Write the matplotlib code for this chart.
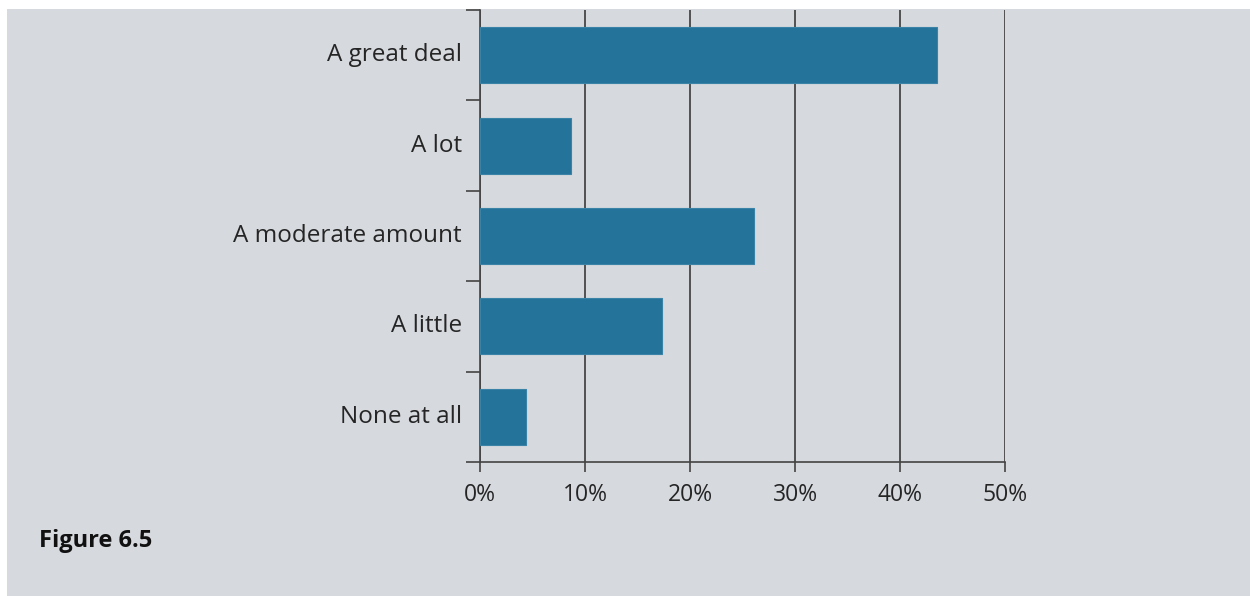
import numpy as np
import matplotlib.pyplot as plt
from matplotlib.patches import Rectangle
from matplotlib.ticker import FixedLocator
from matplotlib.transforms import ScaledTranslation

categories = ["A great deal", "A lot", "A moderate amount", "A little", "None at all"]
shares = [43.5, 8.7, 26.1, 17.3, 4.4]
xticks = [0, 10, 20, 30, 40, 50]
xlabels = ["0%", "10%", "20%", "30%", "40%", "50%"]

plt.rcParams['font.family'] = ['Open Sans', 'DejaVu Sans']

bg = "#d6d9de"
ink = "#252525"

fig = plt.figure(figsize=(12.5, 5.96), dpi=100, facecolor="white")
# grey panel with a thin white margin on the top and left
fig.patches.append(Rectangle((7 / 1250, 0), 1 - 7 / 1250, 1 - 9 / 596,
                             transform=fig.transFigure, facecolor=bg,
                             edgecolor="none", zorder=-10))

ax = fig.add_axes([480 / 1250, 1 - 462 / 596, 525 / 1250, 452 / 596])
ax.set_facecolor("none")

ypos = np.arange(len(categories))
ax.barh(ypos, shares, height=0.62, color="#24739a", edgecolor="#3a82a6",
        linewidth=0.8, zorder=3)

ax.set_xlim(0, 50)
ax.set_ylim(len(categories) - 0.5, -0.5)

ax.set_xticks(xticks)
ax.set_xticklabels(xlabels)
ax.set_yticks(ypos)
ax.set_yticklabels(categories)
ax.yaxis.set_minor_locator(FixedLocator(np.arange(-0.5, len(categories), 1)))

ax.tick_params(axis="y", which="major", length=0, pad=13, labelsize=17.5, labelcolor=ink)
ax.tick_params(axis="y", which="minor", length=10, width=1.2, color="#444444")
ax.tick_params(axis="x", which="major", length=7, width=1.2, color="#444444",
               pad=8, labelsize=16.5, labelcolor=ink)

# labels sit a little above the bar centres in the original
shift = ScaledTranslation(0, 3 / 100, fig.dpi_scale_trans)
for lab in ax.get_yticklabels():
    lab.set_transform(lab.get_transform() + shift)

ax.grid(axis="x", color="#3a3a3a", linewidth=1.2, zorder=1)
for s in ["top", "right"]:
    ax.spines[s].set_visible(False)
for s in ["left", "bottom"]:
    ax.spines[s].set_color("#444444")
    ax.spines[s].set_linewidth(1.2)

fig.text(39 / 1250, 1 - 541 / 596, "Figure 6.5", fontsize=17, fontweight="bold",
         color="#111111", va="center", ha="left")

fig.savefig("out.png", dpi=100, facecolor="white")
